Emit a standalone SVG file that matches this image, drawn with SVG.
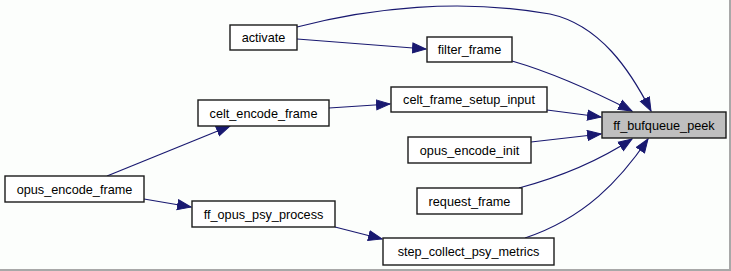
<svg xmlns="http://www.w3.org/2000/svg" width="731" height="271" viewBox="0 0 731 271">
  <style>
    .node rect { fill: #ffffff; stroke: #1a1a1a; stroke-width: 1.4; }
    .node.focus rect { fill: #bfbfbf; }
    .node text { font-family: "Liberation Sans", Arial, sans-serif; font-size: 12.7px; fill: #000000; text-anchor: middle; }
    .edge { fill: none; stroke: #191970; stroke-width: 1.2; marker-end: url(#arrow); }
  </style>
  <defs>
    <marker id="arrow" markerUnits="userSpaceOnUse" markerWidth="15" markerHeight="13" viewBox="0 0 15 13" refX="14" refY="6.5" orient="auto">
      <path d="M0.5,1.5 L14,6.5 L0.5,11.5 Z" fill="#191970" stroke="#191970" stroke-width="1"/>
    </marker>
  </defs>
  <rect x="0" y="0" width="731" height="271" fill="#fcfefc"/>
  <path d="M0,270 H730 V0" fill="none" stroke="#a8a8a8" stroke-width="2"/>

  <g id="connectors">
    <path class="edge" d="M297,27 C370,8 460,-2 550,14 C600,25 630,70 651,111"/>
    <path class="edge" d="M297,39 L426,49"/>
    <path class="edge" d="M512,61 C550,72 595,92 632,111"/>
    <path class="edge" d="M547,110 L601,117"/>
    <path class="edge" d="M531,142 L601,134"/>
    <path class="edge" d="M519,188 C560,177 600,160 632,139"/>
    <path class="edge" d="M525,238 C585,218 620,180 648,139"/>
    <path class="edge" d="M329,108 L390,104"/>
    <path class="edge" d="M107,176 L230,126"/>
    <path class="edge" d="M144,199 L191,207"/>
    <path class="edge" d="M335,227 L382,239"/>
  </g>

  <g id="node-ff_bufqueue_peek" class="node focus">
    <rect x="602" y="112" width="124" height="26"/>
    <text x="664" y="129.5">ff_bufqueue_peek</text>
  </g>
  <g id="node-activate" class="node">
    <rect x="230" y="25" width="67" height="25"/>
    <text x="263.5" y="42">activate</text>
  </g>
  <g id="node-filter_frame" class="node">
    <rect x="427" y="37" width="85" height="25"/>
    <text x="469.5" y="54">filter_frame</text>
  </g>
  <g id="node-celt_encode_frame" class="node">
    <rect x="198" y="100" width="131" height="26"/>
    <text x="263.5" y="117.5">celt_encode_frame</text>
  </g>
  <g id="node-celt_frame_setup_input" class="node">
    <rect x="391" y="87" width="156" height="25"/>
    <text x="469" y="104">celt_frame_setup_input</text>
  </g>
  <g id="node-opus_encode_init" class="node">
    <rect x="408" y="137" width="123" height="26"/>
    <text x="469.5" y="154.5">opus_encode_init</text>
  </g>
  <g id="node-opus_encode_frame" class="node">
    <rect x="5" y="176" width="139" height="26"/>
    <text x="74.5" y="193.5">opus_encode_frame</text>
  </g>
  <g id="node-request_frame" class="node">
    <rect x="417" y="188" width="105" height="26"/>
    <text x="469.5" y="205.5">request_frame</text>
  </g>
  <g id="node-ff_opus_psy_process" class="node">
    <rect x="192" y="201" width="143" height="26"/>
    <text x="263.5" y="218.5">ff_opus_psy_process</text>
  </g>
  <g id="node-step_collect_psy_metrics" class="node">
    <rect x="383" y="238" width="171" height="27"/>
    <text x="468.5" y="256">step_collect_psy_metrics</text>
  </g>
</svg>
